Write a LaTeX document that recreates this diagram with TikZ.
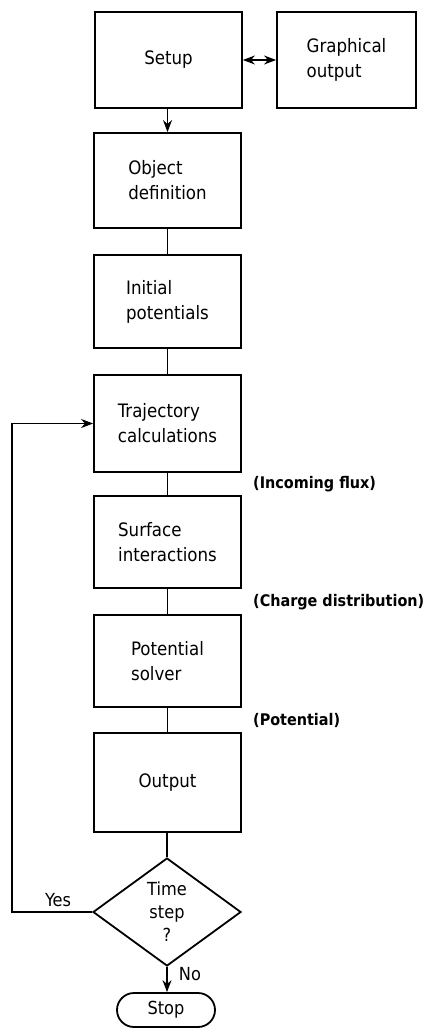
\documentclass[tikz,border=0pt]{standalone}
\usepackage{fontspec}
\setmainfont{DejaVu Sans Condensed}
\usetikzlibrary{shapes.geometric,shapes.misc,arrows.meta}
\tikzset{
  box/.style={draw, line width=1.8pt, minimum width=147pt, align=left, font=\fontsize{18.5}{25}\selectfont, inner sep=0pt},
  conn/.style={line width=1.4pt},
  lbl/.style={font=\fontsize{16}{19}\selectfont\bfseries, anchor=west, inner sep=0pt},
  small/.style={font=\fontsize{18}{20}\selectfont, inner sep=0pt},
  tip/.style={-{Stealth[length=12pt,width=9pt]}}
}
\begin{document}
\begin{tikzpicture}[x=1pt,y=-1pt]
\useasboundingbox (0,0) rectangle (429,1030);
\node[box, minimum height=96pt] (setup) at (168.5,60) {Setup};
\node[box, minimum height=96pt, minimum width=139pt] (graph) at (346.5,60) {Graphical\\output};
\node[box, minimum height=95pt] (obj) at (167.5,180.5) {Object\\definition};
\node[box, minimum height=93pt] (init) at (167.5,301.5) {Initial\\potentials};
\node[box, minimum height=97pt] (traj) at (167.5,423.5) {Trajectory\\calculations};
\node[box, minimum height=92pt] (surf) at (167.5,542) {Surface\\interactions};
\node[box, minimum height=92pt] (solv) at (167.5,661) {Potential\\solver};
\node[box, minimum height=99pt] (out) at (167.5,782.5) {Output};
\node[draw, line width=1.8pt, diamond, aspect=1.37, minimum width=148pt, minimum height=108pt, inner sep=0pt, align=center, font=\fontsize{18}{23}\selectfont] (time) at (167,912) {Time\\step\\?};
\node[draw, line width=1.8pt, rounded rectangle, minimum width=98pt, minimum height=34pt, small] (stop) at (166,1010) {Stop};
\coordinate (loopb) at (12,912);
\coordinate (loopt) at (12,423.5);
\draw[conn, {Stealth[length=12pt,width=9pt]}-{Stealth[length=12pt,width=9pt]}] (setup.east) -- (graph.west);
\draw[conn, tip] (setup.south -| obj.north) -- (obj.north);
\draw[conn] (obj) -- (init);
\draw[conn] (init) -- (traj);
\draw[conn] (traj) -- (surf);
\draw[conn] (surf) -- (solv);
\draw[conn] (solv) -- (out);
\draw[conn] (out.south -| time.north) -- (time.north);
\draw[conn, tip] (time.south) -- (stop.north -| time.south);
\draw[conn, tip] (time.west) -- (loopb) -- (loopt) -- (traj.west);
\node[lbl] (l1) at (253,484) {(Incoming flux)};
\node[lbl] (l2) at (253,602) {(Charge distribution)};
\node[lbl] (l3) at (253,720) {(Potential)};
\node[small] (yes) at (58,900) {Yes};
\node[small] (no) at (190,974) {No};
\end{tikzpicture}
\end{document}
